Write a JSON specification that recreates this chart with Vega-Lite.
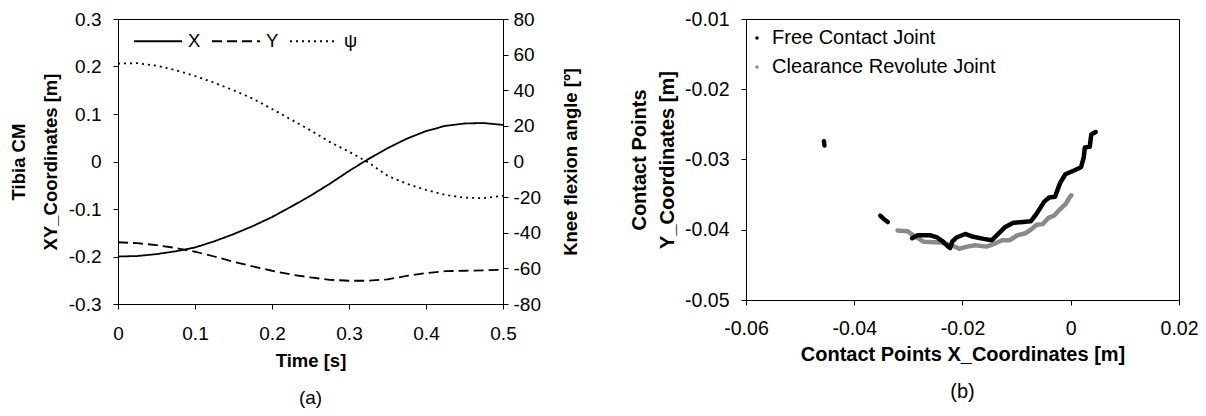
{
  "$schema": "https://vega.github.io/schema/vega-lite/v6.json",
  "padding": {"left": 8, "top": 8, "right": 5, "bottom": 5},
  "spacing": 48,
  "resolve": {"scale": {"color": "independent", "strokeDash": "independent"}, "legend": {"color": "independent", "strokeDash": "independent"}},
  "datasets": {
    "knee": [
      {"t":0,"series":"X","value":-0.200},{"t":0.025,"series":"X","value":-0.199},{"t":0.05,"series":"X","value":-0.195},{"t":0.075,"series":"X","value":-0.189},{"t":0.1,"series":"X","value":-0.181},{"t":0.125,"series":"X","value":-0.168},{"t":0.15,"series":"X","value":-0.153},{"t":0.175,"series":"X","value":-0.136},{"t":0.2,"series":"X","value":-0.117},{"t":0.225,"series":"X","value":-0.095},{"t":0.25,"series":"X","value":-0.072},{"t":0.275,"series":"X","value":-0.047},{"t":0.3,"series":"X","value":-0.020},{"t":0.325,"series":"X","value":0.005},{"t":0.35,"series":"X","value":0.028},{"t":0.375,"series":"X","value":0.048},{"t":0.4,"series":"X","value":0.064},{"t":0.425,"series":"X","value":0.075},{"t":0.45,"series":"X","value":0.080},{"t":0.475,"series":"X","value":0.081},{"t":0.5,"series":"X","value":0.077},
      {"t":0,"series":"Y","value":-0.170},{"t":0.025,"series":"Y","value":-0.172},{"t":0.05,"series":"Y","value":-0.176},{"t":0.075,"series":"Y","value":-0.182},{"t":0.1,"series":"Y","value":-0.190},{"t":0.125,"series":"Y","value":-0.200},{"t":0.15,"series":"Y","value":-0.211},{"t":0.175,"series":"Y","value":-0.221},{"t":0.2,"series":"Y","value":-0.230},{"t":0.225,"series":"Y","value":-0.238},{"t":0.25,"series":"Y","value":-0.244},{"t":0.275,"series":"Y","value":-0.249},{"t":0.3,"series":"Y","value":-0.251},{"t":0.325,"series":"Y","value":-0.251},{"t":0.35,"series":"Y","value":-0.248},{"t":0.375,"series":"Y","value":-0.241},{"t":0.4,"series":"Y","value":-0.235},{"t":0.425,"series":"Y","value":-0.231},{"t":0.45,"series":"Y","value":-0.230},{"t":0.475,"series":"Y","value":-0.229},{"t":0.5,"series":"Y","value":-0.228},
      {"t":0,"series":"ψ","value":55.0},{"t":0.025,"series":"ψ","value":55.2},{"t":0.05,"series":"ψ","value":53.8},{"t":0.075,"series":"ψ","value":51.3},{"t":0.1,"series":"ψ","value":48.0},{"t":0.125,"series":"ψ","value":44.2},{"t":0.15,"series":"ψ","value":40.0},{"t":0.175,"series":"ψ","value":35.3},{"t":0.2,"series":"ψ","value":29.5},{"t":0.225,"series":"ψ","value":23.5},{"t":0.25,"series":"ψ","value":17.5},{"t":0.275,"series":"ψ","value":11.0},{"t":0.3,"series":"ψ","value":5.5},{"t":0.325,"series":"ψ","value":-0.5},{"t":0.35,"series":"ψ","value":-8.0},{"t":0.375,"series":"ψ","value":-12.5},{"t":0.4,"series":"ψ","value":-16.0},{"t":0.425,"series":"ψ","value":-18.8},{"t":0.45,"series":"ψ","value":-20.3},{"t":0.475,"series":"ψ","value":-20.6},{"t":0.5,"series":"ψ","value":-19.2}
    ],
    "contact": [
      {"joint":"Free Contact Joint","seg":"a","x":-0.0456,"y":-0.0274},
      {"joint":"Free Contact Joint","seg":"a","x":-0.0455,"y":-0.0280},
      {"joint":"Free Contact Joint","seg":"b","x":-0.0352,"y":-0.0380},
      {"joint":"Free Contact Joint","seg":"b","x":-0.0345,"y":-0.0385},
      {"joint":"Free Contact Joint","seg":"b","x":-0.0338,"y":-0.0389},
      {"joint":"Free Contact Joint","seg":"c","x":-0.0293,"y":-0.0412},
      {"joint":"Free Contact Joint","seg":"c","x":-0.0283,"y":-0.0408},
      {"joint":"Free Contact Joint","seg":"c","x":-0.0270,"y":-0.0408},
      {"joint":"Free Contact Joint","seg":"c","x":-0.0259,"y":-0.0408},
      {"joint":"Free Contact Joint","seg":"c","x":-0.0247,"y":-0.0411},
      {"joint":"Free Contact Joint","seg":"c","x":-0.0236,"y":-0.0417},
      {"joint":"Free Contact Joint","seg":"c","x":-0.0228,"y":-0.0423},
      {"joint":"Free Contact Joint","seg":"c","x":-0.0223,"y":-0.0426},
      {"joint":"Free Contact Joint","seg":"c","x":-0.0219,"y":-0.0417},
      {"joint":"Free Contact Joint","seg":"c","x":-0.0211,"y":-0.0411},
      {"joint":"Free Contact Joint","seg":"c","x":-0.0195,"y":-0.0406},
      {"joint":"Free Contact Joint","seg":"c","x":-0.0180,"y":-0.0410},
      {"joint":"Free Contact Joint","seg":"c","x":-0.0161,"y":-0.0413},
      {"joint":"Free Contact Joint","seg":"c","x":-0.0146,"y":-0.0415},
      {"joint":"Free Contact Joint","seg":"c","x":-0.0134,"y":-0.0406},
      {"joint":"Free Contact Joint","seg":"c","x":-0.0121,"y":-0.0396},
      {"joint":"Free Contact Joint","seg":"c","x":-0.0106,"y":-0.0390},
      {"joint":"Free Contact Joint","seg":"c","x":-0.0088,"y":-0.0389},
      {"joint":"Free Contact Joint","seg":"c","x":-0.0074,"y":-0.0388},
      {"joint":"Free Contact Joint","seg":"c","x":-0.0063,"y":-0.0377},
      {"joint":"Free Contact Joint","seg":"c","x":-0.0049,"y":-0.0360},
      {"joint":"Free Contact Joint","seg":"c","x":-0.0040,"y":-0.0354},
      {"joint":"Free Contact Joint","seg":"c","x":-0.0029,"y":-0.0353},
      {"joint":"Free Contact Joint","seg":"c","x":-0.0020,"y":-0.0334},
      {"joint":"Free Contact Joint","seg":"c","x":-0.0010,"y":-0.0321},
      {"joint":"Free Contact Joint","seg":"c","x":0.0005,"y":-0.0316},
      {"joint":"Free Contact Joint","seg":"c","x":0.0019,"y":-0.0311},
      {"joint":"Free Contact Joint","seg":"c","x":0.0024,"y":-0.0297},
      {"joint":"Free Contact Joint","seg":"c","x":0.0026,"y":-0.0283},
      {"joint":"Free Contact Joint","seg":"c","x":0.0035,"y":-0.0282},
      {"joint":"Free Contact Joint","seg":"c","x":0.0038,"y":-0.0264},
      {"joint":"Free Contact Joint","seg":"c","x":0.0046,"y":-0.0261},
      {"joint":"Clearance Revolute Joint","seg":"d","x":-0.0320,"y":-0.0401},
      {"joint":"Clearance Revolute Joint","seg":"d","x":-0.0302,"y":-0.0402},
      {"joint":"Clearance Revolute Joint","seg":"d","x":-0.0291,"y":-0.0408},
      {"joint":"Clearance Revolute Joint","seg":"d","x":-0.0272,"y":-0.0417},
      {"joint":"Clearance Revolute Joint","seg":"d","x":-0.0241,"y":-0.0418},
      {"joint":"Clearance Revolute Joint","seg":"d","x":-0.0220,"y":-0.0422},
      {"joint":"Clearance Revolute Joint","seg":"d","x":-0.0206,"y":-0.0427},
      {"joint":"Clearance Revolute Joint","seg":"d","x":-0.0191,"y":-0.0424},
      {"joint":"Clearance Revolute Joint","seg":"d","x":-0.0177,"y":-0.0422},
      {"joint":"Clearance Revolute Joint","seg":"d","x":-0.0156,"y":-0.0424},
      {"joint":"Clearance Revolute Joint","seg":"d","x":-0.0141,"y":-0.0420},
      {"joint":"Clearance Revolute Joint","seg":"d","x":-0.0127,"y":-0.0415},
      {"joint":"Clearance Revolute Joint","seg":"d","x":-0.0113,"y":-0.0415},
      {"joint":"Clearance Revolute Joint","seg":"d","x":-0.0099,"y":-0.0408},
      {"joint":"Clearance Revolute Joint","seg":"d","x":-0.0084,"y":-0.0405},
      {"joint":"Clearance Revolute Joint","seg":"d","x":-0.0074,"y":-0.0400},
      {"joint":"Clearance Revolute Joint","seg":"d","x":-0.0063,"y":-0.0393},
      {"joint":"Clearance Revolute Joint","seg":"d","x":-0.0052,"y":-0.0392},
      {"joint":"Clearance Revolute Joint","seg":"d","x":-0.0041,"y":-0.0383},
      {"joint":"Clearance Revolute Joint","seg":"d","x":-0.0031,"y":-0.0380},
      {"joint":"Clearance Revolute Joint","seg":"d","x":-0.0020,"y":-0.0371},
      {"joint":"Clearance Revolute Joint","seg":"d","x":-0.0009,"y":-0.0363},
      {"joint":"Clearance Revolute Joint","seg":"d","x":-0.0002,"y":-0.0354},
      {"joint":"Clearance Revolute Joint","seg":"d","x":0.0001,"y":-0.0351}
    ]
  },
  "hconcat": [
    {
      "width": 385,
      "height": 285,
      "data": {"name": "knee"},
      "title": {"text": "(a)", "orient": "bottom", "fontSize": 19, "fontWeight": "normal", "anchor": "middle", "offset": 19, "color": "black", "font": "Liberation Sans"},
      "encoding": {
        "x": {
          "field": "t", "type": "quantitative",
          "scale": {"domain": [0, 0.5], "nice": false, "zero": false},
          "axis": {"title": "Time [s]", "values": [0, 0.1, 0.2, 0.3, 0.4, 0.5], "format": ".1~f", "labelPadding": 15, "titlePadding": 8, "labelFlush": false}
        }
      },
      "layer": [
        {
          "transform": [{"filter": "datum.series !== 'ψ'"}],
          "mark": {"type": "line", "color": "black", "strokeWidth": 1.8},
          "encoding": {
            "y": {
              "field": "value", "type": "quantitative",
              "scale": {"domain": [-0.3, 0.3], "nice": false, "zero": false},
              "axis": {"orient": "left", "title": ["Tibia CM", "XY_Coordinates [m]"], "values": [-0.3, -0.2, -0.1, 0, 0.1, 0.2, 0.3], "format": ".1~f", "labelPadding": 12, "titlePadding": 8, "titleLineHeight": 32}
            },
            "strokeDash": {
              "field": "series", "type": "nominal",
              "scale": {"domain": ["X", "Y", "ψ"], "range": [[1, 0], [10, 5], [2, 4]]},
              "legend": {"orient": "none", "legendX": 15, "legendY": -3, "direction": "horizontal", "title": null, "symbolSize": 2300, "symbolStrokeWidth": 1.8, "symbolStrokeColor": "black", "labelFontSize": 18.5, "labelOffset": 5, "columnPadding": 7, "labelColor": "black", "labelFont": "Liberation Sans"}
            }
          }
        },
        {
          "transform": [{"filter": "datum.series === 'ψ'"}],
          "mark": {"type": "line", "color": "black", "strokeWidth": 1.8},
          "encoding": {
            "y": {
              "field": "value", "type": "quantitative",
              "scale": {"domain": [-80, 80], "nice": false, "zero": false},
              "axis": {"orient": "right", "title": "Knee flexion angle [º]", "values": [-80, -60, -40, -20, 0, 20, 40, 60, 80], "labelPadding": 5, "titlePadding": 21, "titleAngle": -90, "titleBaseline": "top"}
            },
            "strokeDash": {
              "field": "series", "type": "nominal",
              "scale": {"domain": ["X", "Y", "ψ"], "range": [[1, 0], [10, 5], [2, 4]]}
            }
          }
        }
      ],
      "resolve": {"scale": {"y": "independent"}}
    },
    {
      "width": 433,
      "height": 281,
      "data": {"name": "contact"},
      "title": {"text": "(b)", "orient": "bottom", "fontSize": 20, "fontWeight": "normal", "anchor": "middle", "offset": 17, "color": "black", "font": "Liberation Sans"},
      "encoding": {
        "x": {
          "field": "x", "type": "quantitative",
          "scale": {"domain": [-0.06, 0.02], "nice": false, "zero": false},
          "axis": {"title": "Contact Points X_Coordinates [m]", "values": [-0.06, -0.04, -0.02, 0, 0.02], "format": ".2~f", "labelPadding": 14, "titlePadding": 7, "labelFlush": false, "labelFontSize": 19.5, "titleFontSize": 20}
        },
        "y": {
          "field": "y", "type": "quantitative",
          "scale": {"domain": [-0.05, -0.01], "nice": false, "zero": false},
          "axis": {"title": ["Contact Points", "Y_Coordinates [m]"], "values": [-0.05, -0.04, -0.03, -0.02, -0.01], "format": ".2~f", "labelPadding": 12, "titlePadding": 7, "titleLineHeight": 28, "labelFontSize": 19.5, "titleFontSize": 20}
        },
        "color": {
          "field": "joint", "type": "nominal",
          "scale": {"domain": ["Free Contact Joint", "Clearance Revolute Joint"], "range": ["#000000", "#8a8a8a"]},
          "legend": {"orient": "none", "legendX": 1, "legendY": 9, "direction": "vertical", "title": null, "symbolType": "circle", "symbolSize": 4, "symbolStrokeWidth": 1.6, "labelFontSize": 20, "labelLimit": 0, "labelOffset": 5, "rowPadding": 9, "labelColor": "black", "labelFont": "Liberation Sans"}
        },
        "detail": {"field": "seg", "type": "nominal"}
      },
      "layer": [
        {
          "transform": [{"filter": "datum.joint === 'Clearance Revolute Joint'"}],
          "mark": {"type": "line", "strokeWidth": 4.5, "strokeCap": "round", "strokeJoin": "round"}
        },
        {
          "transform": [{"filter": "datum.joint === 'Free Contact Joint'"}],
          "mark": {"type": "line", "strokeWidth": 4.5, "strokeCap": "round", "strokeJoin": "round"}
        }
      ]
    }
  ],
  "config": {
    "font": "Liberation Sans",
    "locale": {"number": {"decimal": ".", "thousands": ",", "grouping": [3], "currency": ["$", ""], "minus": "-"}},
    "view": {"stroke": "black", "strokeWidth": 1},
    "axis": {
      "grid": false,
      "domainColor": "black", "domainWidth": 1,
      "tickColor": "black", "tickWidth": 1, "tickSize": 5,
      "labelColor": "black", "labelFontSize": 19, "labelFont": "Liberation Sans", "labelOverlap": false,
      "titleColor": "black", "titleFontSize": 18.5, "titleFontWeight": "bold", "titleFont": "Liberation Sans"
    }
  }
}
